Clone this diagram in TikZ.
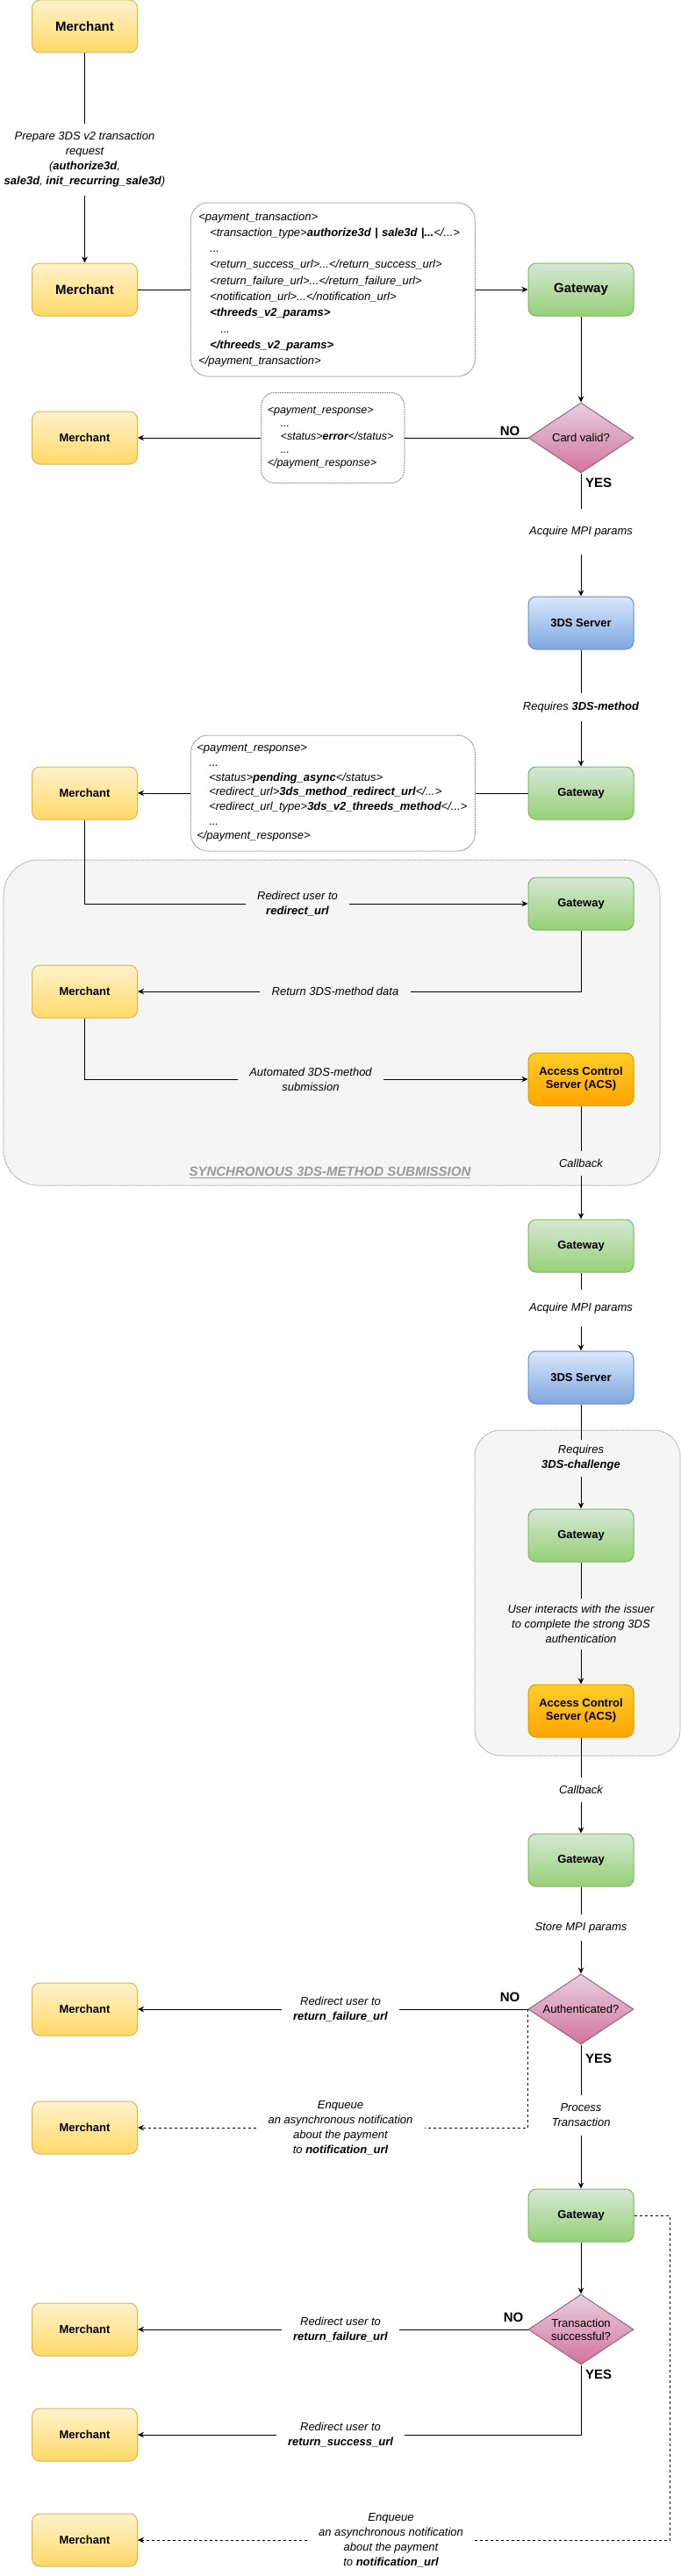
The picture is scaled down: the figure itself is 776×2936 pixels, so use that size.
\documentclass[tikz,border=0pt]{standalone}
\usepackage{fontspec}
\setmainfont{Liberation Sans}
\usepackage{tikz}
\usetikzlibrary{arrows.meta, positioning, shapes.geometric, calc}
\newcommand{\fsz}[2]{\fontsize{#1}{#2}\selectfont}
\definecolor{merchtop}{HTML}{FFF2CC}
\definecolor{merchbot}{HTML}{FFD966}
\definecolor{merchline}{HTML}{D6B656}
\definecolor{gwtop}{HTML}{D5E8D4}
\definecolor{gwbot}{HTML}{97D077}
\definecolor{gwline}{HTML}{82B366}
\definecolor{srvtop}{HTML}{DAE8FC}
\definecolor{srvbot}{HTML}{7EA6E0}
\definecolor{srvline}{HTML}{6C8EBF}
\definecolor{acstop}{HTML}{FFCD28}
\definecolor{acsbot}{HTML}{FFA500}
\definecolor{acsline}{HTML}{D79B00}
\definecolor{dectop}{HTML}{E6D0DE}
\definecolor{decbot}{HTML}{D5739D}
\definecolor{decline}{HTML}{996185}
\definecolor{groupfill}{HTML}{F5F5F5}
\definecolor{grouptext}{HTML}{999999}
\tikzstyle{entity} = [rectangle, rounded corners=9pt, minimum width=120pt, minimum height=60pt, align=center, font=\fsz{13}{15}\bfseries]
\tikzstyle{big} = [font=\fsz{15}{17}\bfseries]
\tikzstyle{merchant} = [entity, draw=merchline, top color=merchtop, bottom color=merchbot]
\tikzstyle{gateway} = [entity, draw=gwline, top color=gwtop, bottom color=gwbot]
\tikzstyle{server} = [entity, draw=srvline, top color=srvtop, bottom color=srvbot]
\tikzstyle{acs} = [entity, draw=acsline, top color=acstop, bottom color=acsbot]
\tikzstyle{decision} = [diamond, aspect=1.5, inner sep=0pt, minimum width=120pt, minimum height=80pt, draw=decline, top color=dectop, bottom color=decbot, align=center, font=\fsz{13}{15}]
\tikzstyle{xml} = [rectangle, rounded corners=20pt, draw=black!55, densely dotted, fill=white, align=left, font=\fsz{13}{18.3}\itshape]
\tikzstyle{container} = [rectangle, rounded corners=40pt, draw=black!40, densely dotted, fill=groupfill]
\tikzstyle{grouptitle} = [font=\fsz{15}{17}\bfseries\itshape, text=grouptext]
\tikzstyle{edgetext} = [font=\fsz{13}{17}\itshape, align=center, inner xsep=13pt, inner ysep=9pt]
\tikzstyle{answer} = [font=\fsz{15}{17}\bfseries]
\tikzstyle{arrow} = [-{Stealth[length=7pt, width=6.5pt, inset=2.2pt]}]
\tikzstyle{notifyline} = [dash pattern=on 3pt off 3pt]

\begin{document}
\begin{tikzpicture}[x=1pt, y=-1pt, line width=1pt]
            \useasboundingbox (0,0) rectangle (776,2936);

            % The groups
            \node[container, minimum width=748pt, minimum height=371pt] (sync_group) at (378,1165.5) {};
            \node[container, rounded corners=30pt, minimum width=234pt, minimum height=371pt] (challenge_group) at (658,1815.5) {};
            \node[grouptitle] (sync_title) at (376,1336.5) {\underline{SYNCHRONOUS 3DS-METHOD SUBMISSION}};

            % The states
            \node[merchant, big] (merchant_start) at (96.5,30) {Merchant};
            \node[merchant, big] (merchant_request) at (96.5,330) {Merchant};
            \node[gateway, big] (gateway_request) at (662,330) {Gateway};
            \node[decision] (card_valid) at (662,499) {Card valid?};
            \node[merchant] (merchant_error) at (merchant_start |- card_valid) {Merchant};
            \node[server] (server_method) at (662,710) {3DS Server};
            \node[gateway] (gateway_method) at (662,904) {Gateway};
            \node[merchant] (merchant_method) at (merchant_start |- gateway_method) {Merchant};
            \node[gateway] (gateway_redirect) at (662,1030) {Gateway};
            \node[merchant] (merchant_data) at (96.5,1130) {Merchant};
            \node[acs] (acs_method) at (662,1230) {Access Control\\Server (ACS)};
            \node[gateway] (gateway_callback) at (662,1420) {Gateway};
            \node[server] (server_challenge) at (662,1570) {3DS Server};
            \node[gateway] (gateway_challenge) at (662,1750) {Gateway};
            \node[acs] (acs_challenge) at (662,1950) {Access Control\\Server (ACS)};
            \node[gateway] (gateway_store) at (662,2120) {Gateway};
            \node[decision] (authenticated) at (662,2290) {Authenticated?};
            \node[merchant] (merchant_auth_failure) at (merchant_start |- authenticated) {Merchant};
            \node[merchant] (merchant_auth_notify) at (96.5,2425) {Merchant};
            \node[gateway] (gateway_process) at (662,2525) {Gateway};
            \node[decision] (txn_successful) at (662,2655) {Transaction\\successful?};
            \node[merchant] (merchant_txn_failure) at (merchant_start |- txn_successful) {Merchant};
            \node[merchant] (merchant_success) at (96.5,2775) {Merchant};
            \node[merchant] (merchant_txn_notify) at (96.5,2895) {Merchant};

            % The messages
            \node[xml, text width=306pt, inner xsep=9pt, minimum height=198pt] (request_xml) at ($(merchant_request)!0.5!(gateway_request)$)
                {\mbox{<payment\_transaction>}\\
                    \mbox{\hspace*{13pt}<transaction\_type>\textbf{authorize3d | sale3d |...}</...>}\\
                    \mbox{\hspace*{13pt}...}\\
                    \mbox{\hspace*{13pt}<return\_success\_url>...</return\_success\_url>}\\
                    \mbox{\hspace*{13pt}<return\_failure\_url>...</return\_failure\_url>}\\
                    \mbox{\hspace*{13pt}<notification\_url>...</notification\_url>}\\
                    \mbox{\hspace*{13pt}\textbf{<threeds\_v2\_params>}}\\
                    \mbox{\hspace*{25pt}...}\\
                    \mbox{\hspace*{13pt}\textbf{</threeds\_v2\_params>}}\\
                    \mbox{</payment\_transaction>}};
            \node[xml, rounded corners=15pt, text width=149pt, inner xsep=7pt, minimum height=103pt, font=\fsz{12.5}{15}\itshape] (error_xml) at ($(merchant_error)!0.5!(card_valid)$)
                {\mbox{<payment\_response>}\\
                    \mbox{\hspace*{15pt}...}\\
                    \mbox{\hspace*{15pt}<status>\textbf{error}</status>}\\
                    \mbox{\hspace*{15pt}...}\\
                    \mbox{</payment\_response>}};
            \node[xml, text width=310pt, inner xsep=7pt, minimum height=132pt, font=\fsz{13}{16.7}\itshape] (pending_xml) at ($(merchant_method)!0.5!(gateway_method)$)
                {\mbox{<payment\_response>}\\
                    \mbox{\hspace*{14pt}...}\\
                    \mbox{\hspace*{14pt}<status>\textbf{pending\_async}</status>}\\
                    \mbox{\hspace*{14pt}<redirect\_url>\textbf{3ds\_method\_redirect\_url}</...>}\\
                    \mbox{\hspace*{14pt}<redirect\_url\_type>\textbf{3ds\_v2\_threeds\_method}</...>}\\
                    \mbox{\hspace*{14pt}...}\\
                    \mbox{</payment\_response>}};

            % The transition texts
            \node[edgetext] (prepare_text) at (96.5,182)
                {Prepare 3DS v2 transaction\\request\\(\textbf{authorize3d},\\\textbf{sale3d}, \textbf{init\_recurring\_sale3d})};
            \node[edgetext, inner ysep=19pt] (acquire_text_a) at (662,606) {Acquire MPI params};
            \node[edgetext] (method_text) at (662,806) {Requires \textbf{3DS-method}};
            \node[edgetext] (redirect_text) at (339,1030) {Redirect user to\\\textbf{redirect\_url}};
            \node[edgetext] (return_text) at (382,1130) {Return 3DS-method data};
            \node[edgetext] (submit_text) at (354,1230) {Automated 3DS-method\\submission};
            \node[edgetext] (callback_text_a) at (662,1326) {Callback};
            \node[edgetext, inner ysep=14pt] (acquire_text_b) at (662,1491) {Acquire MPI params};
            \node[edgetext, inner ysep=6pt] (challenge_text) at (662,1662) {Requires\\\textbf{3DS-challenge}};
            \node[edgetext, inner ysep=7pt] (interact_text) at (662,1851)
                {User interacts with the issuer\\to complete the strong 3DS\\authentication};
            \node[edgetext] (callback_text_b) at (662,2040) {Callback};
            \node[edgetext] (store_text) at (662,2197) {Store MPI params};
            \node[edgetext] (auth_failure_text) at (388,2290) {Redirect user to\\\textbf{return\_failure\_url}};
            \node[edgetext] (auth_notify_text) at (388,2425)
                {Enqueue\\an asynchronous notification\\about the payment\\to \textbf{notification\_url}};
            \node[edgetext] (process_text) at (662,2411) {Process\\Transaction};
            \node[edgetext] (txn_failure_text) at (388,2655) {Redirect user to\\\textbf{return\_failure\_url}};
            \node[edgetext] (success_text) at (388,2775) {Redirect user to\\\textbf{return\_success\_url}};
            \node[edgetext] (txn_notify_text) at (445.5,2895)
                {Enqueue\\an asynchronous notification\\about the payment\\to \textbf{notification\_url}};
            \coordinate (notify_corner) at (763,2525);

            \node[answer] (no_card) at (581,491) {NO};
            \node[answer] (yes_card) at (682,550) {YES};
            \node[answer] (no_auth) at (581,2276) {NO};
            \node[answer] (yes_auth) at (682,2346) {YES};
            \node[answer] (no_txn) at (585,2641) {NO};
            \node[answer] (yes_txn) at (682,2706) {YES};

            % The transitions
            \draw (merchant_start) -- (prepare_text);
            \draw[arrow] (prepare_text) -- (merchant_request);
            \draw (merchant_request) -- (request_xml);
            \draw[arrow] (request_xml) -- (gateway_request);
            \draw[arrow] (gateway_request) -- (card_valid);
            \draw (card_valid) -- (error_xml);
            \draw[arrow] (error_xml) -- (merchant_error);
            \draw (card_valid) -- (acquire_text_a);
            \draw[arrow] (acquire_text_a) -- (server_method);
            \draw (server_method) -- (method_text);
            \draw[arrow] (method_text) -- (gateway_method);
            \draw (gateway_method) -- (pending_xml);
            \draw[arrow] (pending_xml) -- (merchant_method);
            \draw (merchant_method) |- (redirect_text);
            \draw[arrow] (redirect_text) -- (gateway_redirect);
            \draw (gateway_redirect) |- (return_text);
            \draw[arrow] (return_text) -- (merchant_data);
            \draw (merchant_data) |- (submit_text);
            \draw[arrow] (submit_text) -- (acs_method);
            \draw (acs_method) -- (callback_text_a);
            \draw[arrow] (callback_text_a) -- (gateway_callback);
            \draw (gateway_callback) -- (acquire_text_b);
            \draw[arrow] (acquire_text_b) -- (server_challenge);
            \draw (server_challenge) -- (challenge_text);
            \draw[arrow] (challenge_text) -- (gateway_challenge);
            \draw (gateway_challenge) -- (interact_text);
            \draw[arrow] (interact_text) -- (acs_challenge);
            \draw (acs_challenge) -- (callback_text_b);
            \draw[arrow] (callback_text_b) -- (gateway_store);
            \draw (gateway_store) -- (store_text);
            \draw[arrow] (store_text) -- (authenticated);
            \draw (authenticated) -- (auth_failure_text);
            \draw[arrow] (auth_failure_text) -- (merchant_auth_failure);
            \draw[notifyline] (authenticated.west) |- (auth_notify_text);
            \draw[notifyline, arrow] (auth_notify_text) -- (merchant_auth_notify);
            \draw (authenticated) -- (process_text);
            \draw[arrow] (process_text) -- (gateway_process);
            \draw[arrow] (gateway_process) -- (txn_successful);
            \draw (txn_successful) -- (txn_failure_text);
            \draw[arrow] (txn_failure_text) -- (merchant_txn_failure);
            \draw (txn_successful) |- (success_text);
            \draw[arrow] (success_text) -- (merchant_success);
            \draw[notifyline] (gateway_process) -- (notify_corner) |- (txn_notify_text);
            \draw[notifyline, arrow] (txn_notify_text) -- (merchant_txn_notify);
        \end{tikzpicture}
\end{document}
